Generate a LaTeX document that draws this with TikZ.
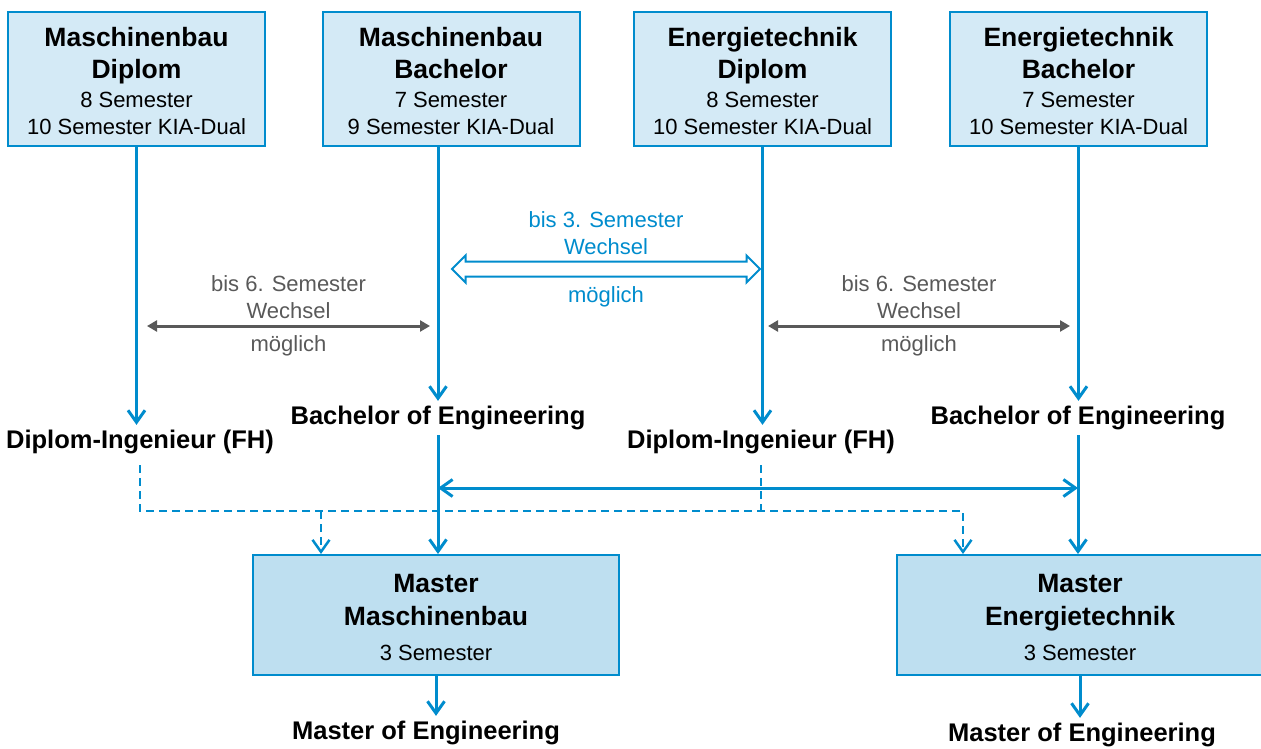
\documentclass[tikz,border=0pt]{standalone}
\usepackage{fontspec}
\setmainfont{Liberation Sans}
\usetikzlibrary{shapes.arrows,positioning,calc,arrows.meta}

\definecolor{hsblue}{RGB}{0,140,205}
\definecolor{hsgray}{RGB}{89,89,89}
\definecolor{boxfill}{RGB}{212,234,246}
\definecolor{masterfill}{RGB}{190,223,240}

\newcommand{\titlesize}{\fontsize{26.5}{32}\selectfont\bfseries}
\newcommand{\semsize}{\fontsize{22}{27}\selectfont}
\newcommand{\degsize}{\fontsize{25.5}{30}\selectfont\bfseries}

\tikzset{barb/.tip={Straight Barb[length=12pt, width=17pt]}}

\begin{document}
\begin{tikzpicture}[x=1pt, y=-1pt,
        box/.style={draw=hsblue, line width=2pt, rectangle, fill=boxfill, minimum width=257pt, minimum height=134pt, align=center, inner sep=0pt, font=\semsize},
        master/.style={box, fill=masterfill, minimum width=366pt, minimum height=120pt},
        degree/.style={font=\degsize, inner sep=5pt},
        arrow/.style={-barb, draw=hsblue, line width=3pt},
        dashline/.style={draw=hsblue, line width=2.5pt, dash pattern=on 8pt off 5pt},
        dasharrow/.style={dashline, -barb},
        wechsel/.style={{Triangle[length=10pt, width=11pt]}-{Triangle[length=10pt, width=11pt]}, draw=hsgray, line width=3pt},
        note/.style={font=\semsize, text=hsgray, align=center, inner sep=1pt}
    ]
        \useasboundingbox (0,0) rectangle (1261,749);
        \clip (0,0) rectangle (1261,749);

        % Study programmes
        \node (mbd) [box] at (136.5,79) {\rule{0pt}{24pt}\titlesize Maschinenbau\\[5pt]\titlesize Diplom\\[2pt]8 Semester\\10 Semester KIA-Dual};
        \node (mbb) [box] at (451,79) {\rule{0pt}{24pt}\titlesize Maschinenbau\\[5pt]\titlesize Bachelor\\[2pt]7 Semester\\9 Semester KIA-Dual};
        \node (etd) [box] at (762.5,79) {\rule{0pt}{24pt}\titlesize Energietechnik\\[5pt]\titlesize Diplom\\[2pt]8 Semester\\10 Semester KIA-Dual};
        \node (etb) [box] at (1078.5,79) {\rule{0pt}{24pt}\titlesize Energietechnik\\[5pt]\titlesize Bachelor\\[2pt]7 Semester\\10 Semester KIA-Dual};

        % Degrees
        \node (dimb) [degree] at (140,442) {Diplom-Ingenieur (FH)};
        \node (bamb) [degree] at (438,418) {Bachelor of Engineering};
        \node (diet) [degree] at (761,442) {Diplom-Ingenieur (FH)};
        \node (baet) [degree] at (1078,418) {Bachelor of Engineering};

        \draw [arrow] (mbd.south) -- (mbd.south |- dimb.north);
        \draw [arrow] (mbb.south -| bamb.north) -- (bamb.north);
        \draw [arrow] (etd.south) -- (etd.south |- diet.north);
        \draw [arrow] (etb.south) -- (etb.south |- baet.north);

        % Change of programme
        \coordinate (wl1) at (147,326);
        \coordinate (wl2) at (430,326);
        \coordinate (wr1) at (768,326);
        \coordinate (wr2) at (1070,326);
        \draw [wechsel] (wl1) -- node[note, above=5pt] {bis 6. Semester\\Wechsel} node[note, below=7pt] {möglich} (wl2);
        \draw [wechsel] (wr1) -- node[note, above=5pt] {bis 6. Semester\\Wechsel} node[note, below=7pt] {möglich} (wr2);

        \node (chg) [double arrow, draw=hsblue, line width=2pt, fill=white, minimum height=308pt, text height=6.5pt, text depth=6.5pt, inner sep=0pt, double arrow head extend=6pt] at (606,269) {};
        \node (chgup) [note, text=hsblue, above=5pt of chg] {bis 3. Semester\\Wechsel};
        \node (chgdn) [note, text=hsblue, below=8pt of chg] {möglich};

        % Master
        \node (mmb) [master] at (436,615) {\rule{0pt}{23pt}\titlesize Master\\[6pt]\titlesize Maschinenbau\\[8pt]3 Semester};
        \node (met) [master] at (1080,615) {\rule{0pt}{23pt}\titlesize Master\\[6pt]\titlesize Energietechnik\\[8pt]3 Semester};
        \node (moemb) [degree] at (426,733) {Master of Engineering};
        \node (moeet) [degree] at (1082,735) {Master of Engineering};

        \coordinate (railL) at (dimb.south |- 0,511);
        \coordinate (railM) at (321,511);
        \coordinate (railR) at (963,511);
        \draw [dasharrow, shorten <=6pt] (dimb.south) -- (railL) -- (railR) -- (railR |- met.north);
        \draw [dasharrow] (railM) -- (railM |- mmb.north);
        \draw [dashline, shorten <=6pt] (diet.south) -- (diet.south |- railR);

        \draw [arrow] (bamb.south) -- (bamb.south |- mmb.north);
        \draw [arrow] (baet.south) -- (baet.south |- met.north);
        \draw [barb-barb, draw=hsblue, line width=3pt] (bamb.south |- 0,488) -- (baet.south |- 0,488);

        \draw [arrow] (mmb.south) -- (mmb.south |- moemb.north);
        \draw [arrow] (met.south) -- (met.south |- moeet.north);
    \end{tikzpicture}
\end{document}
